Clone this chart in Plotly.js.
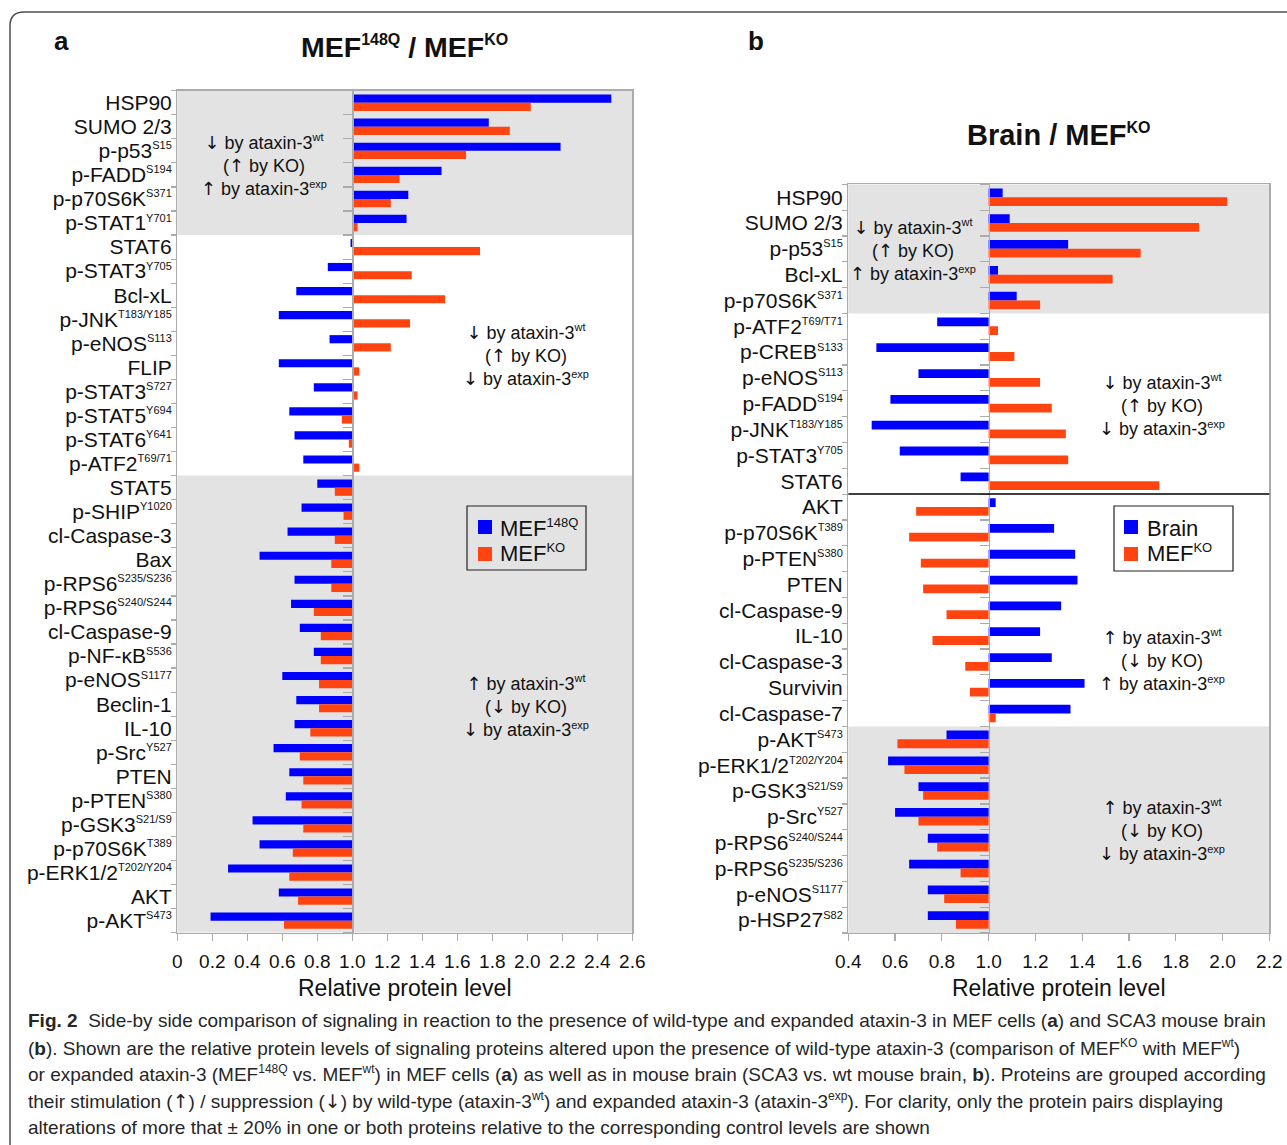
<!DOCTYPE html>
<html>
<head>
<meta charset="utf-8">
<script src="https://cdn.plot.ly/plotly-3.0.1.min.js"></script>
<style>html,body{margin:0;padding:0;background:#fff;}#chart{width:1287px;height:1145px;}</style>
</head>
<body>
<div id="chart"></div>
<script>
// ---------- DATA ----------
const aCategories = [
  'HSP90','SUMO 2/3','p-p53<sup>S15</sup>','p-FADD<sup>S194</sup>','p-p70S6K<sup>S371</sup>','p-STAT1<sup>Y701</sup>',
  'STAT6','p-STAT3<sup>Y705</sup>','Bcl-xL','p-JNK<sup>T183/Y185</sup>','p-eNOS<sup>S113</sup>','FLIP',
  'p-STAT3<sup>S727</sup>','p-STAT5<sup>Y694</sup>','p-STAT6<sup>Y641</sup>','p-ATF2<sup>T69/71</sup>',
  'STAT5','p-SHIP<sup>Y1020</sup>','cl-Caspase-3','Bax','p-RPS6<sup>S235/S236</sup>','p-RPS6<sup>S240/S244</sup>',
  'cl-Caspase-9','p-NF-κB<sup>S536</sup>','p-eNOS<sup>S1177</sup>','Beclin-1','IL-10','p-Src<sup>Y527</sup>',
  'PTEN','p-PTEN<sup>S380</sup>','p-GSK3<sup>S21/S9</sup>','p-p70S6K<sup>T389</sup>','p-ERK1/2<sup>T202/Y204</sup>',
  'AKT','p-AKT<sup>S473</sup>'
];
const aMEF148Q = [2.48,1.78,2.19,1.51,1.32,1.31, 0.99,0.86,0.68,0.58,0.87,0.58,0.78,0.64,0.67,0.72,
  0.80,0.71,0.63,0.47,0.67,0.65,0.70,0.78,0.60,0.68,0.67,0.55,0.64,0.62,0.43,0.47,0.29,0.58,0.19];
const aMEFKO = [2.02,1.90,1.65,1.27,1.22,1.03, 1.73,1.34,1.53,1.33,1.22,1.04,1.03,0.94,0.98,1.04,
  0.90,0.95,0.90,0.88,0.88,0.78,0.82,0.82,0.81,0.81,0.76,0.70,0.72,0.71,0.72,0.66,0.64,0.69,0.61];

const bCategories = [
  'HSP90','SUMO 2/3','p-p53<sup>S15</sup>','Bcl-xL','p-p70S6K<sup>S371</sup>',
  'p-ATF2<sup>T69/T71</sup>','p-CREB<sup>S133</sup>','p-eNOS<sup>S113</sup>','p-FADD<sup>S194</sup>',
  'p-JNK<sup>T183/Y185</sup>','p-STAT3<sup>Y705</sup>','STAT6',
  'AKT','p-p70S6K<sup>T389</sup>','p-PTEN<sup>S380</sup>','PTEN','cl-Caspase-9','IL-10','cl-Caspase-3',
  'Survivin','cl-Caspase-7',
  'p-AKT<sup>S473</sup>','p-ERK1/2<sup>T202/Y204</sup>','p-GSK3<sup>S21/S9</sup>','p-Src<sup>Y527</sup>',
  'p-RPS6<sup>S240/S244</sup>','p-RPS6<sup>S235/S236</sup>','p-eNOS<sup>S1177</sup>','p-HSP27<sup>S82</sup>'
];
const bBrain = [1.06,1.09,1.34,1.04,1.12, 0.78,0.52,0.70,0.58,0.50,0.62,0.88,
  1.03,1.28,1.37,1.38,1.31,1.22,1.27,1.41,1.35, 0.82,0.57,0.70,0.60,0.74,0.66,0.74,0.74];
const bMEFKO = [2.02,1.90,1.65,1.53,1.22, 1.04,1.11,1.22,1.27,1.33,1.34,1.73,
  0.69,0.66,0.71,0.72,0.82,0.76,0.90,0.92,1.03, 0.61,0.64,0.72,0.70,0.78,0.88,0.81,0.86];

const aTickVals = [0,0.2,0.4,0.6,0.8,1.0,1.2,1.4,1.6,1.8,2.0,2.2,2.4,2.6];
const aTickText = ['0','0.2','0.4','0.6','0.8','1.0','1.2','1.4','1.6','1.8','2.0','2.2','2.4','2.6'];
const bTickVals = [0.4,0.6,0.8,1.0,1.2,1.4,1.6,1.8,2.0,2.2];
const bTickText = ['0.4','0.6','0.8','1.0','1.2','1.4','1.6','1.8','2.0','2.2'];

const seriesNamesA = ['MEF<sup>148Q</sup>','MEF<sup>KO</sup>'];
const seriesNamesB = ['Brain','MEF<sup>KO</sup>'];
const baseline = 1.0;

// ---------- STYLE ----------
const BLUE = '#0000ff', ORANGE = '#ff4412', GREY_BG = '#e3e3e3', AXIS = '#ababab';
const W = 1287, H = 1145;
const px = x => x / W;
const py = y => 1 - y / H;
const FONT = 'Liberation Sans, Arial, Helvetica, sans-serif';
const ARROWFONT = 'DejaVu Sans';

// shrink superscripts to look like the reference
const smallSup = (s, size) => s.replace(/<sup>(.*?)<\/sup>/g, `<sup><span style="font-size:${size}px">$1</span></sup>`);
const arrow = a => `<span style="font-family:${ARROWFONT}">${a}</span>`;

const aRange = [0, 2.6], bRange = [0.4, 2.2];
const aDom = [px(177.3), px(632.3)], bDom = [px(848.3), px(1269.3)];
const aYDom = [py(932.7), py(90.7)], bYDom = [py(933), py(184.3)];
const posAt = (dom, range, v) => dom[0] + (v - range[0]) / (range[1] - range[0]) * (dom[1] - dom[0]);

const nA = aCategories.length, nB = bCategories.length;

function bar(cats, vals, color, xa, ya, name) {
  return {type:'bar', orientation:'h', y:cats, x:vals.map(v => v - baseline), base:baseline,
    marker:{color:color, line:{width:0}}, xaxis:xa, yaxis:ya, name:name, hoverinfo:'skip', showlegend:false};
}

const data = [
  bar(aCategories, aMEF148Q, BLUE, 'x', 'y', seriesNamesA[0]),
  bar(aCategories, aMEFKO, ORANGE, 'x', 'y', seriesNamesA[1]),
  bar(bCategories, bBrain, BLUE, 'x2', 'y2', seriesNamesB[0]),
  bar(bCategories, bMEFKO, ORANGE, 'x2', 'y2', seriesNamesB[1]),
  {type:'scatter', x:[], y:[], xaxis:'x', yaxis:'y3', hoverinfo:'skip', showlegend:false},
  {type:'scatter', x:[], y:[], xaxis:'x2', yaxis:'y4', hoverinfo:'skip', showlegend:false}
];

function xAxis(dom, range, tv, tt, anchor) {
  return {domain:dom, range:range, anchor:anchor, tickmode:'array', tickvals:tv, ticktext:tt,
    ticks:'outside', ticklen:7, tickcolor:AXIS, tickwidth:1.2, showline:true, mirror:true,
    linecolor:AXIS, linewidth:1.3, showgrid:false, zeroline:false, fixedrange:true,
    ticklabelstandoff:4, tickfont:{size:19, color:'#111'}};
}
function yAxis(dom, cats, anchor) {
  return {domain:dom, anchor:anchor, type:'category', categoryorder:'array', categoryarray:cats,
    range:[cats.length - 0.5, -0.5], tickmode:'array', tickvals:cats, ticktext:cats.map(c => smallSup(c, 11)),
    ticks:'outside', tickson:'boundaries', ticklen:5, tickcolor:AXIS,
    tickwidth:1.2, showline:true, mirror:true, linecolor:AXIS, linewidth:1.3, showgrid:false,
    zeroline:false, fixedrange:true, tickfont:{size:21, color:'#111'}};
}
function baseAxis(over, pos, n) {
  return {overlaying:over, anchor:'free', position:pos, side:'left', type:'linear',
    range:[n - 0.5, -0.5], tickmode:'linear', tick0:-0.5, dtick:1, ticks:'outside', ticklen:9,
    tickcolor:AXIS, tickwidth:1.2, showline:true, linecolor:AXIS, linewidth:1.3,
    showticklabels:false, showgrid:false, zeroline:false, fixedrange:true};
}

const shapes = [
  {type:'rect', xref:'x domain', yref:'y', x0:0, x1:1, y0:-0.5, y1:5.5, fillcolor:GREY_BG, line:{width:0}, layer:'below'},
  {type:'rect', xref:'x domain', yref:'y', x0:0, x1:1, y0:15.5, y1:nA - 0.5, fillcolor:GREY_BG, line:{width:0}, layer:'below'},
  {type:'rect', xref:'x2 domain', yref:'y2', x0:0, x1:1, y0:-0.5, y1:4.5, fillcolor:GREY_BG, line:{width:0}, layer:'below'},
  {type:'rect', xref:'x2 domain', yref:'y2', x0:0, x1:1, y0:20.5, y1:nB - 0.5, fillcolor:GREY_BG, line:{width:0}, layer:'below'},
  {type:'line', xref:'x2 domain', yref:'y2', x0:0, x1:1, y0:11.5, y1:11.5, line:{color:'#000', width:1.5}},
  // figure frame
  {type:'path', xref:'paper', yref:'paper', line:{color:'#4d4d4d', width:1.5},
   path:`M ${px(10)},${py(1145)} L ${px(10)},${py(26)} Q ${px(10)},${py(12)} ${px(24)},${py(12)} L ${px(1287)},${py(12)}`},
  // legend boxes
  {type:'rect', xref:'paper', yref:'paper', x0:px(467), x1:px(586), y0:py(570), y1:py(506), line:{color:'#222', width:1.2}, fillcolor:'rgba(0,0,0,0)'},
  {type:'rect', xref:'paper', yref:'paper', x0:px(478), x1:px(492), y0:py(534), y1:py(520), line:{width:0}, fillcolor:BLUE},
  {type:'rect', xref:'paper', yref:'paper', x0:px(478), x1:px(492), y0:py(561), y1:py(547), line:{width:0}, fillcolor:ORANGE},
  {type:'rect', xref:'paper', yref:'paper', x0:px(1114), x1:px(1233), y0:py(571), y1:py(506), line:{color:'#222', width:1.2}, fillcolor:'rgba(0,0,0,0)'},
  {type:'rect', xref:'paper', yref:'paper', x0:px(1124), x1:px(1138), y0:py(534), y1:py(520), line:{width:0}, fillcolor:BLUE},
  {type:'rect', xref:'paper', yref:'paper', x0:px(1124), x1:px(1138), y0:py(561), y1:py(547), line:{width:0}, fillcolor:ORANGE}
];

function ann(x, y, text, size, opts) {
  return Object.assign({xref:'paper', yref:'paper', x:px(x), y:py(y), text:text, showarrow:false,
    font:{size:size, color:'#111', family:FONT}, xanchor:'center', yanchor:'middle', align:'center'}, opts || {});
}
const WT = 'ataxin-3<sup><span style="font-size:11px">wt</span></sup>';
const EXP = 'ataxin-3<sup><span style="font-size:11px">exp</span></sup>';
const g = (a1, a2, a3) => `${arrow(a1)} by ${WT}<br>(${arrow(a2)} by KO)<br>${arrow(a3)} by ${EXP}`;

const capFont = {size:19, color:'#262626', family:FONT};
const capLines = [
  '<b>Fig. 2</b>\u00a0\u00a0Side-by side comparison of signaling in reaction to the presence of wild-type and expanded ataxin-3 in MEF cells (<b>a</b>) and SCA3 mouse brain',
  '(<b>b</b>). Shown are the relative protein levels of signaling proteins altered upon the presence of wild-type ataxin-3 (comparison of MEF<sup>KO</sup> with MEF<sup>wt</sup>)',
  'or expanded ataxin-3 (MEF<sup>148Q</sup> vs. MEF<sup>wt</sup>) in MEF cells (<b>a</b>) as well as in mouse brain (SCA3 vs. wt mouse brain, <b>b</b>). Proteins are grouped according',
  `their stimulation (${arrow('↑')}) / suppression (${arrow('↓')}) by wild-type (ataxin-3<sup>wt</sup>) and expanded ataxin-3 (ataxin-3<sup>exp</sup>). For clarity, only the protein pairs displaying`,
  'alterations of more that\u00a0±\u00a020% in one or both proteins relative to the corresponding control levels are shown'
];
const capY = [1020, 1047, 1073, 1100, 1127];

const annotations = [
  ann(61, 41, '<b>a</b>', 26),
  ann(756, 41, '<b>b</b>', 26),
  ann(404.5, 47, '<b>' + smallSup('MEF<sup>148Q</sup> / MEF<sup>KO</sup>', 16) + '</b>', 28.5),
  ann(1058.5, 135, '<b>' + smallSup('Brain / MEF<sup>KO</sup>', 16) + '</b>', 29),
  ann(264, 165, g('↓','↑','↑'), 18),
  ann(526, 355, g('↓','↑','↓'), 18),
  ann(526, 706, g('↑','↓','↓'), 18),
  ann(913, 250, g('↓','↑','↑'), 18),
  ann(1162, 405, g('↓','↑','↓'), 18),
  ann(1162, 660, g('↑','↓','↑'), 18),
  ann(1162, 830, g('↑','↓','↓'), 18),
  ann(498, 528, smallSup(seriesNamesA[0], 13), 22, {xanchor:'left'}),
  ann(498, 553, smallSup(seriesNamesA[1], 13), 22, {xanchor:'left'}),
  ann(1145, 528, smallSup(seriesNamesB[0], 13), 22, {xanchor:'left'}),
  ann(1145, 553, smallSup(seriesNamesB[1], 13), 22, {xanchor:'left'}),
  ann(404.8, 988, 'Relative protein level', 23),
  ann(1058.8, 988, 'Relative protein level', 23)
];
capLines.forEach((t, i) => annotations.push(ann(26, capY[i], smallSup(t, 12), 19, {xanchor:'left', align:'left', font:capFont})));

const layout = {
  width:W, height:H, margin:{l:0, r:0, t:0, b:0}, paper_bgcolor:'#fff', plot_bgcolor:'#fff',
  showlegend:false, barmode:'group', bargap:0.32, bargroupgap:0,
  font:{family:FONT, color:'#111'},
  xaxis: xAxis(aDom, aRange, aTickVals, aTickText, 'y'),
  yaxis: yAxis(aYDom, aCategories, 'x'),
  xaxis2: xAxis(bDom, bRange, bTickVals, bTickText, 'y2'),
  yaxis2: yAxis(bYDom, bCategories, 'x2'),
  yaxis3: baseAxis('y', posAt(aDom, aRange, baseline), nA),
  yaxis4: baseAxis('y2', posAt(bDom, bRange, baseline), nB),
  shapes: shapes,
  annotations: annotations
};

Plotly.newPlot('chart', data, layout, {displayModeBar:false, staticPlot:true});
</script>
</body>
</html>
